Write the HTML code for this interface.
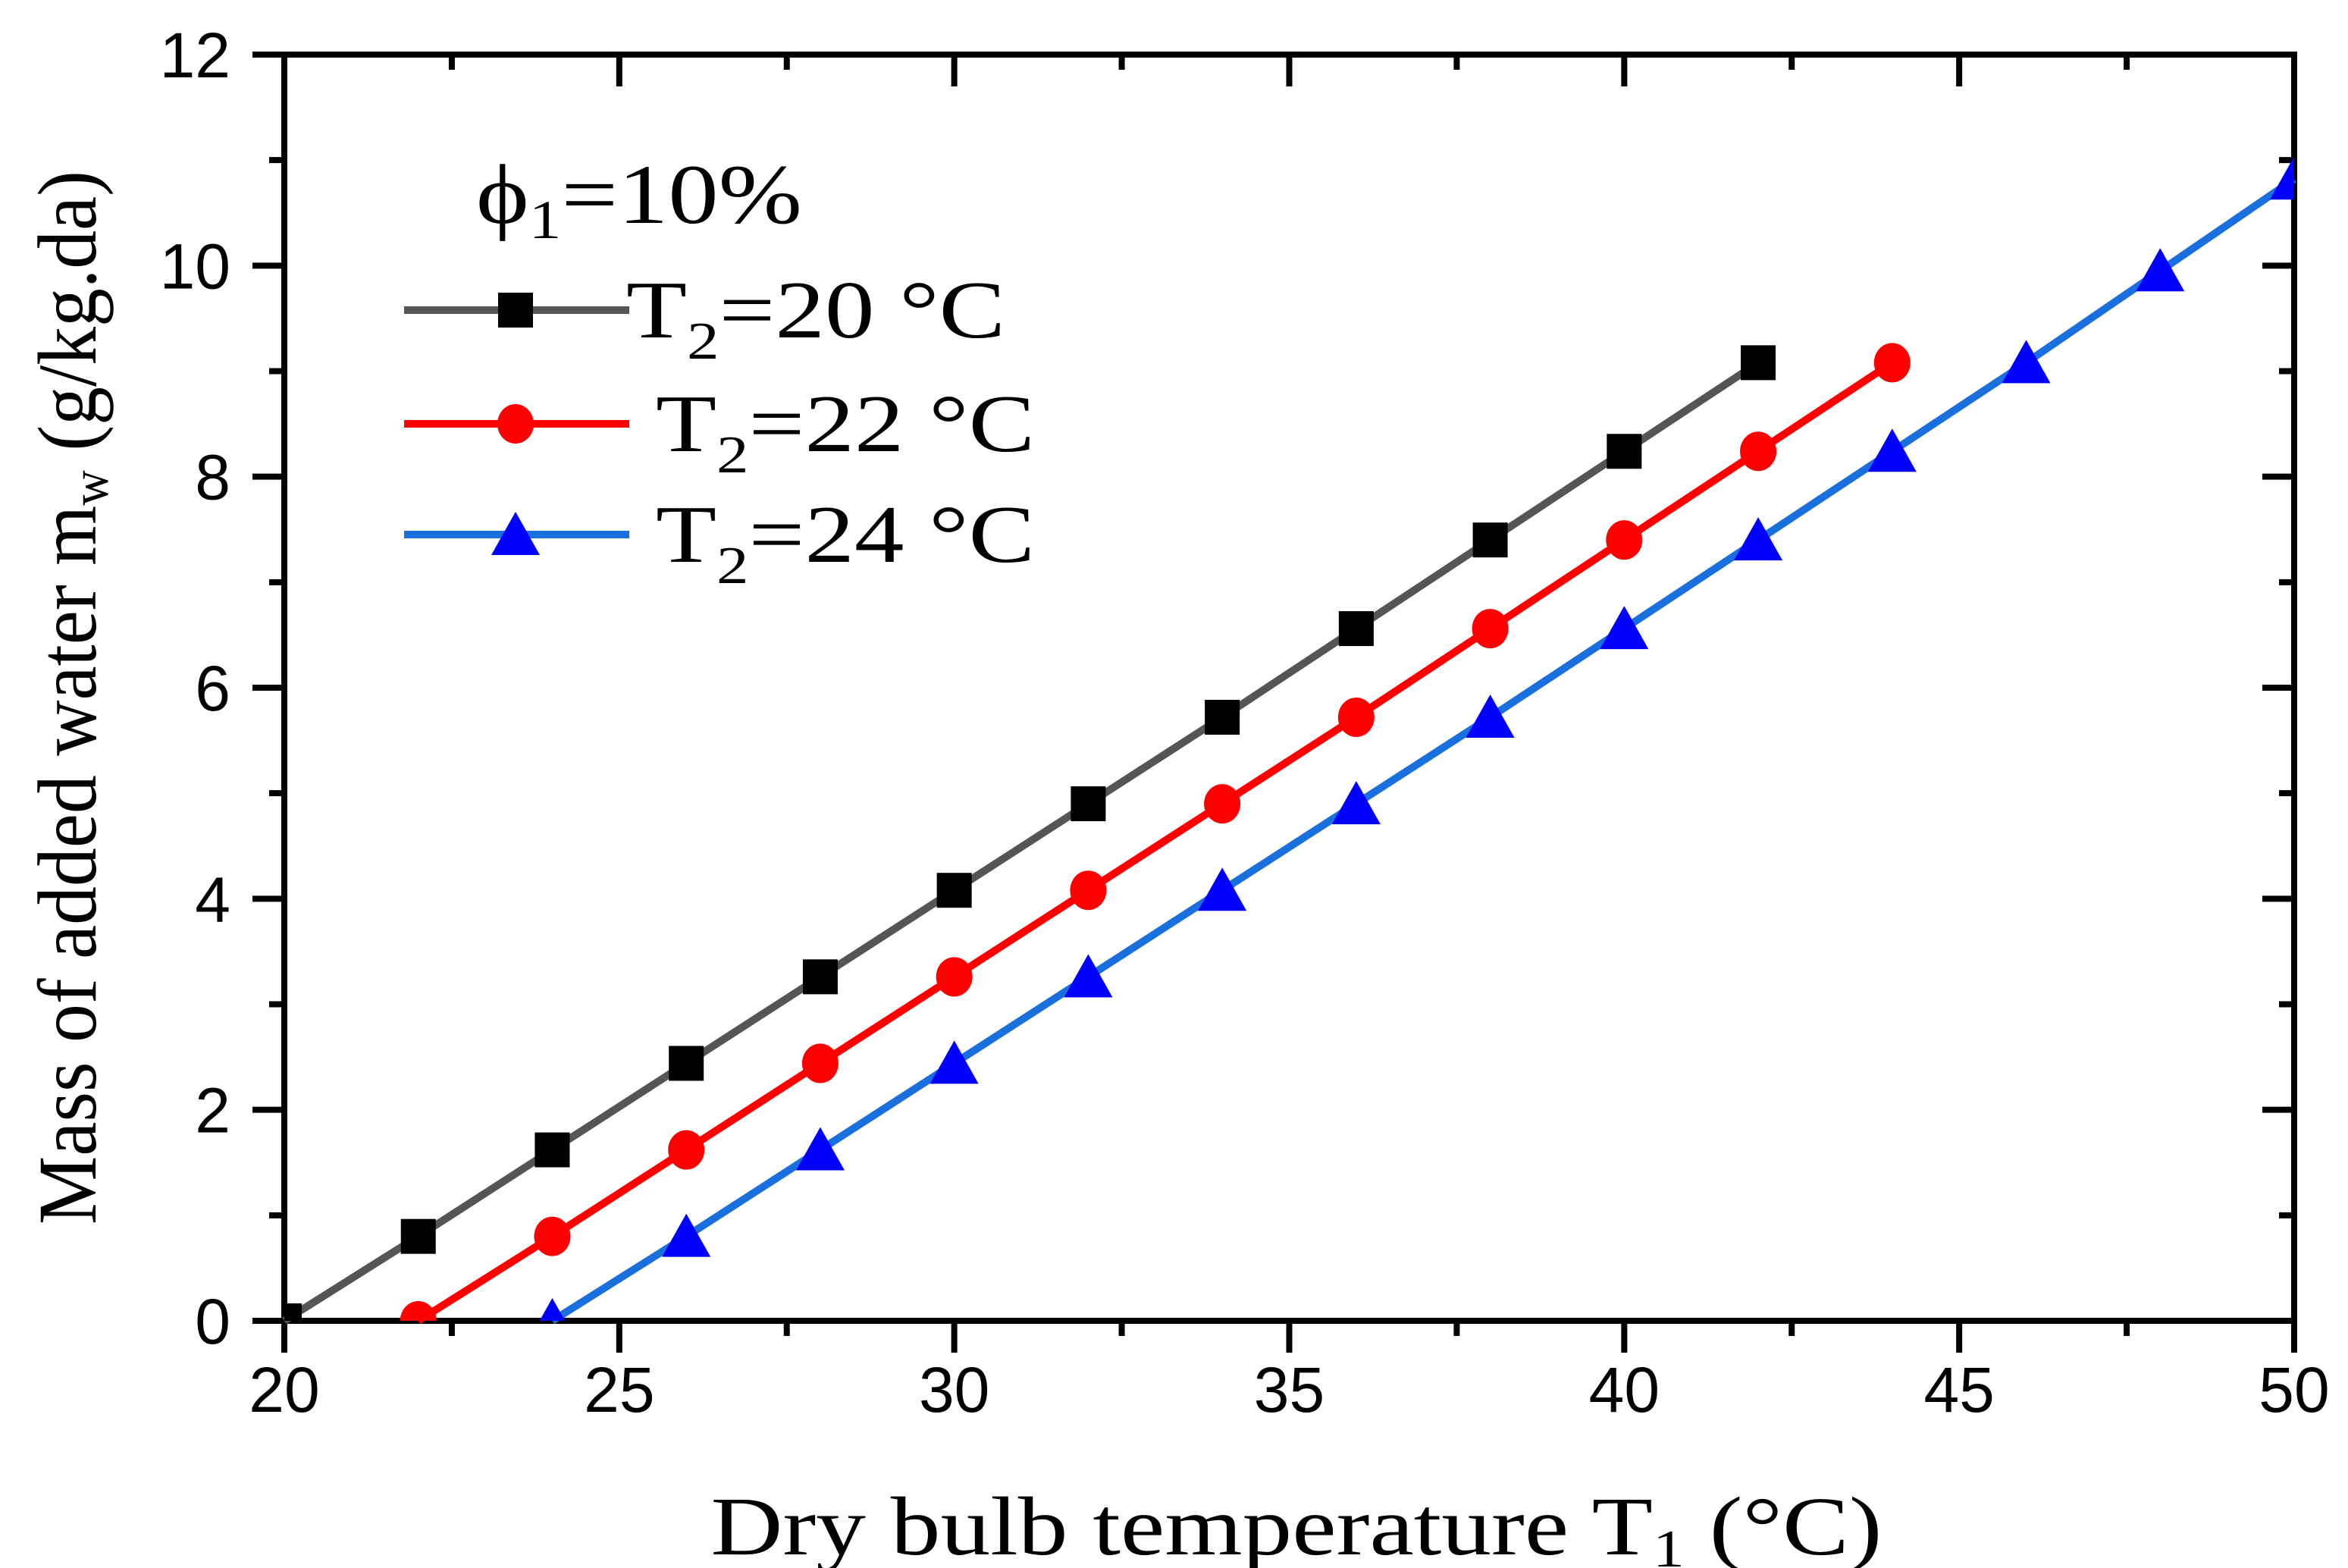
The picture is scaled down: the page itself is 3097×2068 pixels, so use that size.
<!DOCTYPE html>
<html><head><meta charset="utf-8"><style>
html,body{margin:0;padding:0;background:#fff;}
svg{display:block;}
</style></head><body>
<svg id="chart" width="3097" height="2068" viewBox="0 0 3097 2068" xmlns="http://www.w3.org/2000/svg">
<g id="plot"></g>
<text x="1710" y="2050" text-anchor="middle" font-family="Liberation Serif, serif" font-size="110" textLength="1545" lengthAdjust="spacingAndGlyphs">Dry bulb temperature T<tspan font-size="70" dy="16">1</tspan><tspan dy="-16"> (°C)</tspan></text>
<text transform="translate(126,920) rotate(-90)" text-anchor="middle" font-family="Liberation Serif, serif" font-size="110" textLength="1390" lengthAdjust="spacingAndGlyphs">Mass of added water m<tspan font-size="70" dy="16">w</tspan><tspan dy="-16"> (g/kg.da)</tspan></text>
<text x="628" y="294" font-family="Liberation Serif, serif" font-size="112" textLength="430" lengthAdjust="spacingAndGlyphs">ϕ<tspan font-size="72" dy="20">1</tspan><tspan dy="-20">=10%</tspan></text>
</svg>
<script>
const xTicks = [20, 25, 30, 35, 40, 45, 50];
const yTicks = [0, 2, 4, 6, 8, 10, 12];
const x20 = [20,22,24,26,28,30,32,34,36,38,40,42];
const y20 = [0,0.8,1.62,2.44,3.26,4.08,4.9,5.72,6.56,7.4,8.24,9.08];
const x22 = [22,24,26,28,30,32,34,36,38,40,42,44];
const y22 = [0,0.8,1.62,2.44,3.26,4.08,4.9,5.72,6.56,7.4,8.24,9.08];
const x24 = [24,26,28,30,32,34,36,38,40,42,44,46,48,50];
const y24 = [0,0.8,1.62,2.44,3.26,4.08,4.9,5.72,6.56,7.4,8.24,9.08,9.95,10.82];
const seriesNames = ["T2=20 °C","T2=22 °C","T2=24 °C"];

const L=375,R=3026,T=72,B=1742;
const xs=v=>L+(v-20)/30*(R-L);
const ys=v=>B-(v/12)*(B-T);
const NS="http://www.w3.org/2000/svg";
const g=document.getElementById('plot');
function mk(tag,attrs,parent){const e=document.createElementNS(NS,tag);for(const k in attrs)e.setAttribute(k,attrs[k]);(parent||g).appendChild(e);return e;}

const frame=mk('rect',{x:L,y:T,width:R-L,height:B-T,fill:'none',stroke:'#000','stroke-width':8});



for(let v=20;v<=50;v+=2.5){
  const major=(v%5===0);const x=xs(v);const len=major?42:20;
  const t1=mk('line',{x1:x,y1:B,x2:x,y2:B+len,stroke:'#000','stroke-width':8});
  
  
  const t2=mk('line',{x1:x,y1:T,x2:x,y2:T+len,stroke:'#000','stroke-width':8});
  
  
}
for(let v=0;v<=12;v+=1){
  const major=(v%2===0);const y=ys(v);const len=major?42:20;
  const t1=mk('line',{x1:L-len,y1:y,x2:L,y2:y,stroke:'#000','stroke-width':8});
  
  
  const t2=mk('line',{x1:R-len,y1:y,x2:R,y2:y,stroke:'#000','stroke-width':8});
  
  
}
xTicks.forEach(v=>{
  const t=mk('text',{x:xs(v),y:1862,'text-anchor':'middle','font-family':'Liberation Sans, sans-serif','font-size':84});
  t.textContent=v;
  
  
});
yTicks.forEach(v=>{
  const t=mk('text',{x:304,y:ys(v)+30,'text-anchor':'end','font-family':'Liberation Sans, sans-serif','font-size':84});
  t.textContent=v;
  
  
});

function marker(type,cx,cy,fill,name){
  let e;
  if(type==='sq') e=mk('rect',{x:cx-23,y:cy-23,width:46,height:46,fill:fill});
  else if(type==='ci') e=mk('ellipse',{cx:cx,cy:cy,rx:24,ry:26,fill:fill});
  else e=mk('polygon',{points:`${cx},${cy-30} ${cx-32},${cy+27} ${cx+32},${cy+27}`,fill:fill});
  
  
  return e;
}
const series=[
  {xv:x20,yv:y20,line:'#555555',mfill:'#000000',m:'sq',key:'t2-20'},
  {xv:x22,yv:y22,line:'#ff0000',mfill:'#ff0000',m:'ci',key:'t2-22'},
  {xv:x24,yv:y24,line:'#1a6fdf',mfill:'#0000ff',m:'tr',key:'t2-24'}
];
const clip=mk('clipPath',{id:'clipP'});
mk('rect',{x:L,y:T-40,width:R-L,height:B-T+40},clip);
series.forEach(s=>{
  const pts=s.xv.map((x,i)=>xs(x)+','+ys(s.yv[i])).join(' ');
  const pl=mk('polyline',{points:pts,fill:'none',stroke:s.line,'stroke-width':10});
  
  
  const mg=mk('g',{'clip-path':'url(#clipP)'});
  s.xv.forEach((x,i)=>{
    const e=marker(s.m,xs(x),ys(s.yv[i]),s.mfill,'point-'+s.key);
    mg.appendChild(e);
  });
});
// legend
const legY=[409,559,705];
const legTX=[826,865,865];
series.forEach((s,i)=>{
  const ln=mk('line',{x1:533,y1:legY[i],x2:830,y2:legY[i],stroke:s.line,'stroke-width':10});
  
  
  marker(s.m,680,legY[i],s.mfill,'legend-marker-'+s.key);
  const t=mk('text',{x:legTX[i],y:legY[i]+36,'font-family':'Liberation Serif, serif','font-size':108,textLength:500,lengthAdjust:'spacingAndGlyphs'});
  t.innerHTML='T<tspan font-size="70" dy="28">2</tspan><tspan dy="-28">='+seriesNames[i].slice(3)+'</tspan>';
  
  
});
</script>
</body></html>
